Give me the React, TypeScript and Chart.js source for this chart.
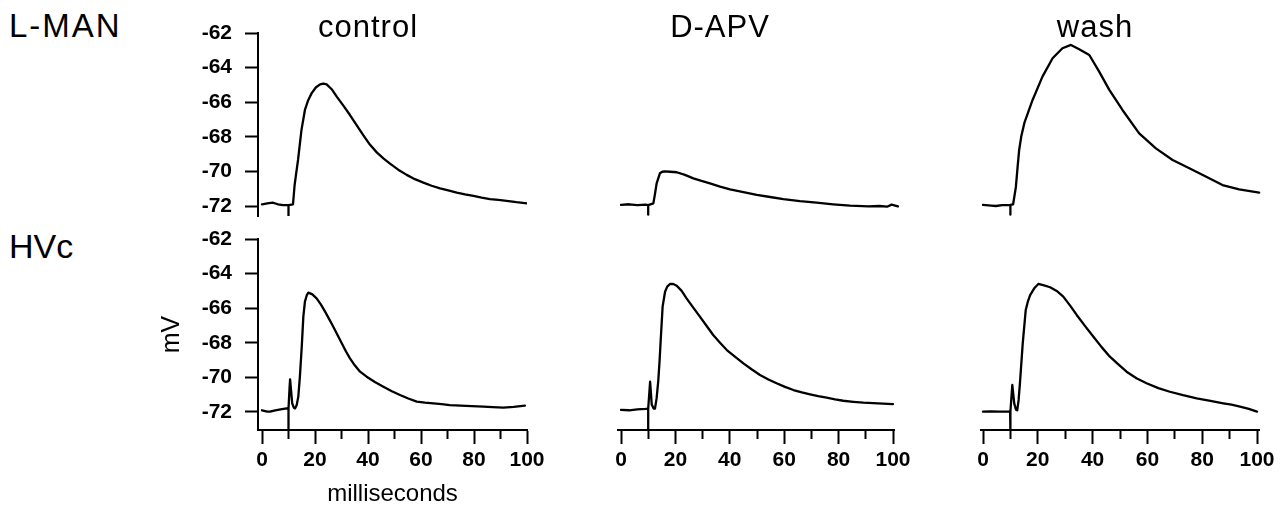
import React, { useEffect, useRef } from 'react';
import { Chart, registerables } from 'chart.js';

Chart.register(...registerables);

// ---------------- data ----------------
const xTicks = [0, 10, 20, 30, 40, 50, 60, 70, 80, 90, 100];
const yTicks = [-72, -70, -68, -66, -64, -62];

const rowLabels = ['L-MAN', 'HVc'];
const columnTitles = ['control', 'D-APV', 'wash'];
const xAxisTitle = 'milliseconds';
const yAxisTitle = 'mV';

// L-MAN, control
const lmanControlT = [0, 2, 4, 6, 8, 10, 10, 10, 11.7, 12.3, 13.0, 13.6, 14.9, 16.2, 17.4, 18.7, 20.3, 21.9, 23.2, 24.4, 26.3, 28.2, 30.7, 33.2, 35.7, 38.2, 40.7, 43.3, 45.8, 48.3, 51.4, 54.6, 57.7, 60.9, 64, 67.2, 70.3, 73.5, 76.6, 79.8, 82.9, 86, 89.2, 92.3, 96, 100];
const lmanControlV = [-71.9, -71.85, -71.8, -71.9, -71.95, -71.95, -72.55, -71.95, -71.9, -70.8, -70.0, -69.34, -67.6, -66.45, -65.9, -65.49, -65.15, -64.97, -64.92, -64.97, -65.25, -65.68, -66.2, -66.74, -67.33, -67.9, -68.45, -68.9, -69.25, -69.55, -69.9, -70.2, -70.45, -70.65, -70.83, -70.98, -71.1, -71.23, -71.33, -71.42, -71.52, -71.6, -71.65, -71.7, -71.78, -71.85];

// L-MAN, D-APV
const lmanApvT = [0, 3, 6, 9, 10, 10, 10, 11.9, 12.5, 13.1, 14.3, 15.2, 16.2, 18, 20.5, 23.5, 26.6, 29.6, 32.7, 36.4, 40.1, 45, 49.9, 54.8, 59.7, 65.8, 71.9, 78, 84.2, 91, 95, 97.8, 99.5, 101.8];
const lmanApvV = [-71.94, -71.9, -71.95, -71.92, -71.95, -72.5, -71.95, -71.85, -71.3, -70.69, -70.11, -70.02, -70.0, -70.02, -70.05, -70.2, -70.4, -70.55, -70.69, -70.88, -71.04, -71.2, -71.36, -71.48, -71.6, -71.72, -71.81, -71.9, -71.98, -72.02, -72.0, -72.04, -71.92, -72.02];

// L-MAN, wash
const lmanWashT = [0, 3, 4.7, 7, 10, 10, 10, 11, 12, 12.6, 13.2, 14, 15.1, 18.1, 21.7, 25.4, 29, 32.1, 35.1, 38.8, 42.4, 46.1, 50.9, 57, 63.1, 69.2, 75.3, 81.3, 87.4, 93.5, 100.8];
const lmanWashV = [-71.94, -71.98, -72.0, -71.95, -71.94, -72.5, -71.94, -71.9, -70.9, -69.8, -68.76, -67.95, -67.2, -65.87, -64.52, -63.46, -62.88, -62.69, -62.94, -63.27, -64.23, -65.29, -66.45, -67.8, -68.67, -69.34, -69.82, -70.3, -70.79, -71.04, -71.23];

// HVc, control
const hvcControlT = [0, 2, 3, 5, 7, 9.3, 10, 10, 10, 10.4, 10.6, 11, 11.4, 12, 12.5, 13.1, 13.7, 14.3, 15.0, 15.6, 16.2, 16.9, 17.5, 19, 20.6, 22.2, 23.8, 25.3, 26.9, 28.5, 30.1, 31.7, 33.2, 35, 37, 39.5, 42.6, 45.8, 49, 52.1, 55.2, 58.4, 61.5, 64.7, 67.8, 70.9, 77, 83.5, 87, 91.1, 95, 99.2];
const hvcControlV = [-71.9, -71.98, -71.98, -71.9, -71.85, -71.79, -71.8, -73.04, -71.8, -70.6, -70.11, -70.8, -71.5, -71.75, -71.79, -71.6, -71.11, -69.96, -68.22, -66.49, -65.62, -65.25, -65.1, -65.2, -65.43, -65.78, -66.2, -66.62, -67.07, -67.55, -68.03, -68.5, -68.9, -69.3, -69.67, -69.96, -70.27, -70.54, -70.8, -71.02, -71.22, -71.4, -71.46, -71.5, -71.55, -71.6, -71.65, -71.69, -71.72, -71.75, -71.7, -71.63];

// HVc, D-APV
const hvcApvT = [0, 3, 6, 9, 10, 10, 10, 10.7, 11.3, 12, 12.5, 13.1, 13.7, 14.2, 14.6, 15.3, 16.2, 17, 18.0, 19.2, 20.5, 22.3, 24.1, 26.5, 29.0, 31.5, 33.9, 36.4, 38.9, 42, 45.0, 48, 51.1, 54.2, 57.2, 60.3, 63.4, 66.5, 69.5, 72.5, 75.6, 78.7, 81.7, 85.4, 89.1, 94.5, 100];
const hvcApvV = [-71.88, -71.9, -71.85, -71.82, -71.8, -73.04, -71.8, -70.25, -71.57, -71.8, -71.8, -71.2, -70.2, -69.0, -67.84, -65.91, -65.05, -64.75, -64.6, -64.6, -64.7, -65.0, -65.43, -65.95, -66.49, -67.03, -67.55, -68.0, -68.42, -68.82, -69.19, -69.53, -69.86, -70.12, -70.34, -70.55, -70.73, -70.87, -70.98, -71.08, -71.17, -71.27, -71.35, -71.41, -71.46, -71.5, -71.54];

// HVc, wash
const hvcWashT = [0, 3, 6, 9.9, 10, 10, 10, 10.7, 11.4, 12, 12.5, 13, 13.5, 14.5, 15.6, 16.4, 17.2, 18.7, 20.2, 22.3, 24.5, 26.9, 29.3, 31.8, 34.2, 37.2, 40.3, 43.3, 46.3, 49.4, 52.4, 56, 59.7, 64, 68.2, 73, 78.0, 83, 87.7, 90.7, 93.8, 97, 100];
const hvcWashV = [-71.98, -71.97, -71.98, -71.98, -71.98, -73.04, -71.98, -70.44, -71.5, -71.85, -71.9, -71.3, -70.3, -68.03, -66.1, -65.6, -65.24, -64.85, -64.6, -64.68, -64.79, -65.0, -65.33, -65.85, -66.39, -67.02, -67.65, -68.25, -68.8, -69.25, -69.67, -70.05, -70.34, -70.62, -70.83, -71.03, -71.21, -71.36, -71.5, -71.58, -71.69, -71.82, -71.98];

// ---------------- layout ----------------
const FONT = '"Liberation Sans", Arial, Helvetica, sans-serif';
const MV_PX = 17.3; // pixels per mV
const columns = [
  { x0: 262, k: 2.65, left: 258, right: 527, rightTop: 527 },
  { x0: 621, k: 2.72, left: 618, right: 894, rightTop: 899 },
  { x0: 983, k: 2.74, left: 981, right: 1259, rightTop: 1261 },
];
const rows = [
  { top: 33, bottom: 216 },
  { top: 239, bottom: 430 },
];

type PanelSpec = {
  t: number[];
  v: number[];
  col: number;
  row: number;
};

const panels: PanelSpec[] = [
  { t: lmanControlT, v: lmanControlV, col: 0, row: 0 },
  { t: lmanApvT, v: lmanApvV, col: 1, row: 0 },
  { t: lmanWashT, v: lmanWashV, col: 2, row: 0 },
  { t: hvcControlT, v: hvcControlV, col: 0, row: 1 },
  { t: hvcApvT, v: hvcApvV, col: 1, row: 1 },
  { t: hvcWashT, v: hvcWashV, col: 2, row: 1 },
];

function Panel({ p }: { p: PanelSpec }) {
  const ref = useRef<HTMLCanvasElement>(null);
  const c = columns[p.col];
  const r = rows[p.row];
  const showY = p.col === 0;
  const showX = p.row === 1;
  const showXTitle = showX && p.col === 0;
  const showYTitle = showY && p.row === 1;
  const left = c.left;
  const right = p.row === 0 ? c.rightTop : c.right;
  const yW = showY ? 100 : 0;
  const xH = showX ? (showXTitle ? 76 : 50) : 0;
  const padL = showY ? 0 : 30;
  const padT = 34;
  const padR = 34;
  const padB = showX ? 0 : 34;
  const cw = right - left + yW + padL + padR;
  const ch = r.bottom - r.top + xH + padT + padB;
  const cl = left - yW - padL;
  const ct = r.top - padT;

  useEffect(() => {
    const xMin = (left - c.x0) / c.k;
    const xMax = (right - c.x0) / c.k;
    const yMax = -62;
    const yMin = -62 - (r.bottom - r.top) / MV_PX;
    const chart = new Chart(ref.current as HTMLCanvasElement, {
      type: 'line',
      data: {
        datasets: [
          {
            data: p.t.map((x, i) => ({ x, y: p.v[i] })),
            borderColor: '#000',
            borderWidth: 2.3,
            pointRadius: 0,
            tension: 0,
            fill: false,
            borderJoinStyle: 'round',
            borderCapStyle: 'round',
          } as any,
        ],
      },
      options: {
        responsive: false,
        animation: false,
        devicePixelRatio: 1,
        events: [],
        layout: { padding: { left: padL, top: padT, right: padR, bottom: padB } },
        plugins: { legend: { display: false }, tooltip: { enabled: false } },
        scales: {
          x: {
            type: 'linear',
            display: showX,
            min: xMin,
            max: xMax,
            afterBuildTicks: (s: any) => {
              s.ticks = xTicks.map((value) => ({ value }));
            },
            afterFit: (s: any) => {
              s.height = xH;
            },
            ticks: {
              autoSkip: false,
              maxRotation: 0,
              minRotation: 0,
              padding: 4,
              color: '#000',
              font: { family: FONT, size: 21, weight: 'bold' },
              callback: (val: any) => (Number(val) % 20 === 0 ? String(val) : ''),
            },
            grid: {
              display: true,
              drawOnChartArea: false,
              drawTicks: true,
              tickLength: 14,
              tickWidth: 2,
              tickColor: '#000',
              tickBorderDash: (ctx: any) =>
                ctx.tick && ctx.tick.value % 20 !== 0 ? [8, 100] : [],
            },
            border: { display: true, color: '#000', width: 2 },
            title: {
              display: showXTitle,
              text: xAxisTitle,
              color: '#000',
              font: { family: FONT, size: 24, lineHeight: 1 },
              padding: { top: 0, bottom: 0 },
            },
          },
          y: {
            type: 'linear',
            display: showY,
            min: yMin,
            max: yMax,
            afterBuildTicks: (s: any) => {
              s.ticks = yTicks.map((value) => ({ value }));
            },
            afterFit: (s: any) => {
              s.width = yW;
            },
            ticks: {
              padding: 13,
              color: '#000',
              font: { family: FONT, size: 21, weight: 'bold' },
              callback: (val: any) => String(val),
            },
            grid: {
              display: true,
              drawOnChartArea: false,
              drawTicks: true,
              tickLength: 13,
              tickWidth: 2,
              tickColor: '#000',
            },
            border: { display: true, color: '#000', width: 2 },
            title: {
              display: showYTitle,
              text: yAxisTitle,
              color: '#000',
              font: { family: FONT, size: 25, lineHeight: 1.1 },
              padding: { top: 0, bottom: 0 },
            },
          },
        },
      } as any,
    });
    return () => chart.destroy();
  }, []);

  return (
    <canvas
      ref={ref}
      width={cw}
      height={ch}
      style={{ position: 'absolute', left: cl, top: ct, width: cw, height: ch }}
    />
  );
}

const textBase: React.CSSProperties = {
  position: 'absolute',
  fontFamily: FONT,
  color: '#000',
  whiteSpace: 'nowrap',
};

const titleCenters = [368, 720, 1095];

export default function App() {
  return (
    <div
      style={{
        position: 'absolute',
        left: 0,
        top: 0,
        width: 1286,
        height: 505,
        overflow: 'hidden',
        background: '#fff',
      }}
    >
      {panels.map((p, i) => (
        <Panel key={i} p={p} />
      ))}
      <div style={{ ...textBase, left: 9, top: 9, fontSize: 33, lineHeight: '33px', letterSpacing: '2px' }}>
        {rowLabels[0]}
      </div>
      <div style={{ ...textBase, left: 9, top: 229, fontSize: 34, lineHeight: '34px' }}>{rowLabels[1]}</div>
      {columnTitles.map((t, i) => (
        <div
          key={t}
          style={{
            ...textBase,
            left: titleCenters[i],
            top: 11,
            fontSize: 31,
            lineHeight: '31px',
            letterSpacing: '1px',
            transform: 'translateX(-50%)',
          }}
        >
          {t}
        </div>
      ))}
    </div>
  );
}
